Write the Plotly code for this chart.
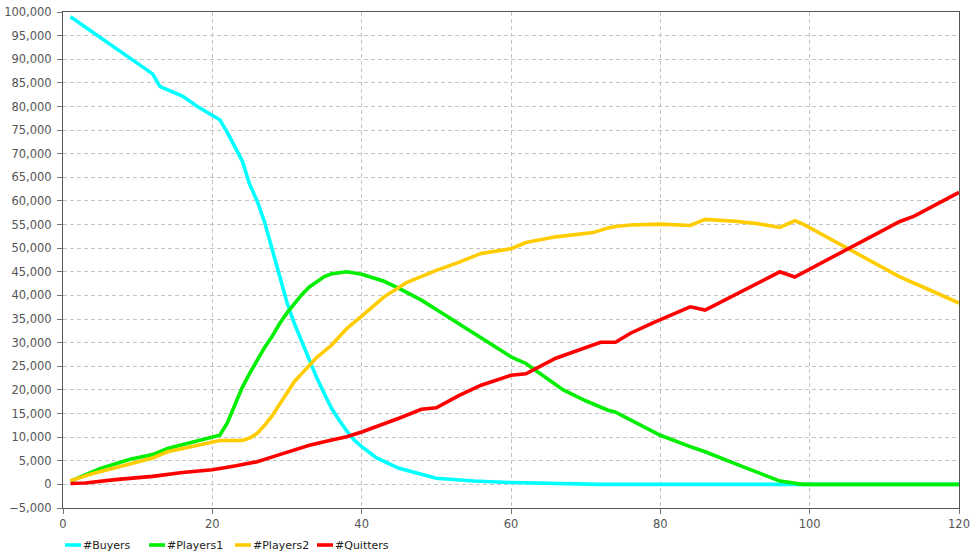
import plotly.graph_objects as go

# Population counts per time step
buyers_x = [1, 3, 5, 7, 9, 12, 13, 16, 18, 21, 22, 23, 24, 25, 26, 27, 28, 29, 30, 31, 32, 33, 34,
            35, 36, 37, 38, 39, 40, 42, 45, 50, 55, 60, 65, 70, 72, 120]
buyers_y = [99000, 96800, 94700, 92300, 90200, 86900, 84200, 82200, 80000, 77200, 74500, 71500,
            68500, 63500, 60000, 55500, 50000, 44500, 38500, 34000, 30000, 26000, 22500, 19200,
            16000, 13600, 11300, 9400, 8000, 5600, 3400, 1300, 700, 400, 200, 150, 0, 0]

players1_x = [1, 5, 9, 12, 14, 17, 19, 21, 22, 23, 24, 25, 26, 27, 28, 29, 30, 31, 32, 33, 34, 35,
              36, 38, 40, 43, 45, 48, 50, 55, 60, 62, 64, 67, 70, 73, 74, 76, 80, 84, 86, 90, 93,
              96, 97, 98, 99, 120]
players1_y = [700, 3400, 5300, 6300, 7600, 8800, 9500, 10400, 13000, 17000, 20500, 23500, 26300,
              29000, 31300, 34000, 36300, 38300, 40200, 41800, 43000, 44000, 44600, 45000, 44500,
              43000, 41500, 39000, 37000, 32000, 27000, 25600, 23300, 20000, 17700, 15700, 15300,
              13600, 10400, 8000, 6900, 4400, 2500, 700, 500, 300, 0, 0]

players2_x = [1, 4, 7, 12, 14, 17, 19, 21, 24, 25, 26, 27, 28, 29, 30, 31, 32, 34, 36, 38, 40, 43,
              46, 50, 53, 56, 60, 62, 66, 71, 73, 74, 76, 80, 84, 86, 90, 93, 96, 98, 99, 103, 106,
              109, 112, 116, 120]
players2_y = [800, 2300, 3500, 5600, 6900, 8000, 8700, 9300, 9300, 9800, 10800, 12500, 14500,
              17000, 19500, 21800, 23500, 26900, 29500, 33000, 35600, 39700, 42700, 45300, 47000,
              48900, 49900, 51200, 52400, 53300, 54300, 54600, 54900, 55100, 54800, 56100, 55700,
              55200, 54400, 55800, 55200, 51800, 49200, 46500, 44000, 41200, 38400]

quitters_x = [1, 3, 7, 12, 16, 20, 23, 26, 29, 33, 36, 38, 40, 42, 45, 48, 50, 53, 56, 60, 62, 66,
              70, 72, 74, 76, 79, 84, 86, 90, 96, 98, 100, 105, 109, 112, 114, 120]
quitters_y = [200, 300, 1000, 1700, 2500, 3100, 3900, 4800, 6300, 8300, 9400, 10100, 11100, 12200,
              14000, 15900, 16200, 18800, 21000, 23100, 23400, 26700, 29100, 30100, 30100, 32000,
              34200, 37600, 36900, 40100, 45000, 43900, 45600, 49900, 53100, 55600, 56800, 61800]

series = [
    ("#Buyers", buyers_x, buyers_y, "#00FFFF"),
    ("#Players1", players1_x, players1_y, "#00EE00"),
    ("#Players2", players2_x, players2_y, "#FFCC00"),
    ("#Quitters", quitters_x, quitters_y, "#FF0000"),
]

x_ticks = [0, 20, 40, 60, 80, 100, 120]

fig = go.Figure()
for name, xs, ys, color in series:
    fig.add_trace(go.Scatter(x=xs, y=ys, mode="lines", name=name,
                             line=dict(color=color, width=3.6), showlegend=False))

# Compact legend row under the plot area
legend_left = [2, 86, 172, 254]  # pixel offsets from plot left edge
plot_w, plot_h = 896, 496
shapes, annotations = [], []
for (name, _, _, color), off in zip(series, legend_left):
    x0 = off / plot_w
    x1 = (off + 16) / plot_w
    yl = -37 / plot_h
    shapes.append(dict(type="line", xref="paper", yref="paper", x0=x0, x1=x1, y0=yl, y1=yl,
                       line=dict(color=color, width=3.6)))
    annotations.append(dict(xref="paper", yref="paper", x=(off + 16) / plot_w, y=yl,
                            text=name, showarrow=False, xanchor="left", yanchor="middle",
                            font=dict(family="DejaVu Sans", size=11, color="#222222")))

axis_common = dict(showline=True, linecolor="#555555", linewidth=1, mirror=True,
                   ticks="outside", ticklen=5, tickcolor="#777777",
                   showgrid=True, gridcolor="#C4C4C4", gridwidth=1, griddash="4px,3px",
                   zeroline=False, automargin=False,
                   tickfont=dict(family="DejaVu Sans", size=11.5, color="#555555"))

fig.update_layout(
    width=978, height=555,
    margin=dict(l=63, r=19, t=12, b=47),
    paper_bgcolor="white", plot_bgcolor="white",
    xaxis=dict(range=[0, 120], tickvals=x_ticks, **axis_common),
    yaxis=dict(range=[-5000, 100000], dtick=5000, tick0=0, tickformat=",d",
               ticklabelstandoff=3, **axis_common),
    shapes=shapes, annotations=annotations,
)

fig.write_html("out.html")
